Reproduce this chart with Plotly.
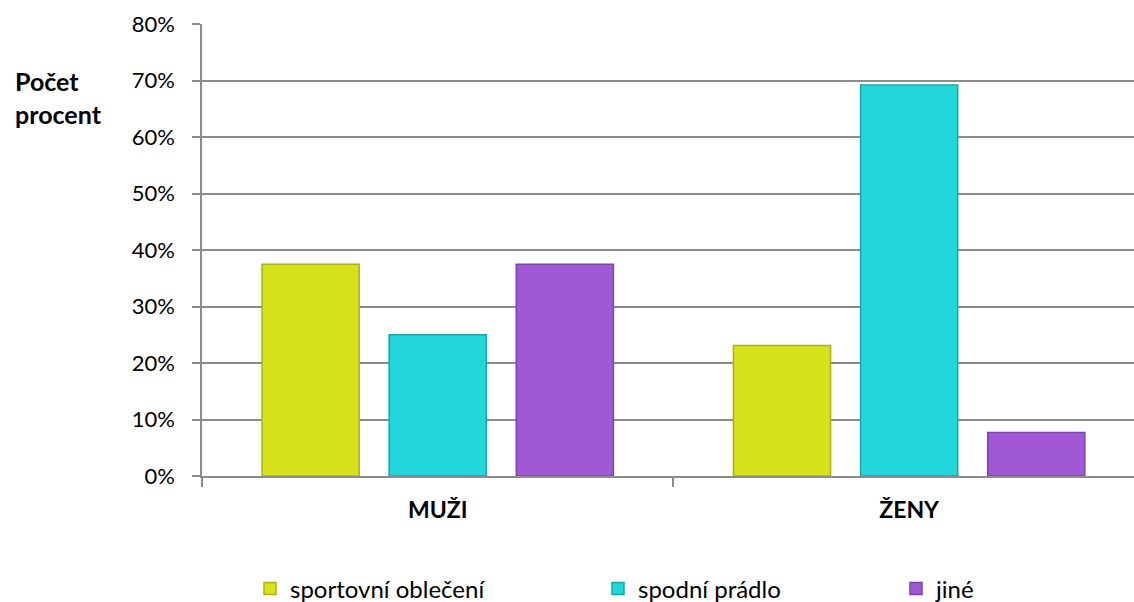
import plotly.graph_objects as go

categories = ["MUŽI", "ŽENY"]
series_names = ["sportovní oblečení", "spodní prádlo", "jiné"]
sport = [0.375, 0.231]
spodni = [0.25, 0.692]
jine = [0.375, 0.077]
y_ticks = [0, 0.1, 0.2, 0.3, 0.4, 0.5, 0.6, 0.7, 0.8]

colors = ["#D6E31B", "#22D6D9", "#A058D5"]
edges = ["#A8B212", "#17A6A9", "#7C44A8"]
values = [sport, spodni, jine]
legends = ["legend", "legend2", "legend3"]
FONT = "Lato"

fig = go.Figure()
for name, vals, c, e, lg in zip(series_names, values, colors, edges, legends):
    fig.add_trace(go.Bar(
        x=categories, y=vals, name=name,
        marker=dict(color=c, line=dict(color=e, width=1.5)),
        legend=lg,
    ))

W, H = 1134, 602
leg_common = dict(orientation="h", xref="container", yref="container",
                  xanchor="left", yanchor="middle",
                  font=dict(family=FONT, size=24, color="#000000"),
                  bgcolor="rgba(0,0,0,0)")
text_x = [290, 638, 936]
legend_cfg = {}
for lg, tx in zip(legends, text_x):
    legend_cfg[lg] = dict(x=(tx - 40) / W, y=1 - 589 / H, **leg_common)

fig.update_layout(
    width=W, height=H,
    margin=dict(l=202, r=0, t=24, b=126),
    paper_bgcolor="white", plot_bgcolor="white",
    bargap=0.191, bargroupgap=0.236,
    barmode="group",
    font=dict(family=FONT, size=22, color="#000000"),
    showlegend=True,
    **legend_cfg,
)

fig.update_xaxes(
    type="category", range=[-0.5, 1.477],
    tickson="boundaries", ticks="outside", ticklen=9, tickwidth=1.5, tickcolor="#8C8C8C",
    showline=True, linecolor="#8C8C8C", linewidth=1.5,
    showgrid=False,
    tickfont=dict(family=FONT, size=23, color="#000000", weight="bold"),
    ticklabelstandoff=13,
)
fig.update_yaxes(
    range=[0, 0.8], tickvals=y_ticks, tickformat=".0%",
    ticks="outside", ticklen=8, tickwidth=1.5, tickcolor="#8C8C8C",
    showline=True, linecolor="#8C8C8C", linewidth=1.5,
    showgrid=True, gridcolor="#8C8C8C", gridwidth=1.5,
    zeroline=False,
    tickfont=dict(family=FONT, size=22, color="#000000"),
    ticklabelstandoff=13,
)

fig.add_annotation(
    text="<b>Počet</b><br><b>procent</b>",
    xref="paper", yref="paper",
    x=(13 - 202) / 932, y=(476 - 98) / 451.5,
    xanchor="left", yanchor="middle", align="left",
    showarrow=False,
    font=dict(family=FONT, size=25, color="#000000"),
)

fig.write_html("out.html")
